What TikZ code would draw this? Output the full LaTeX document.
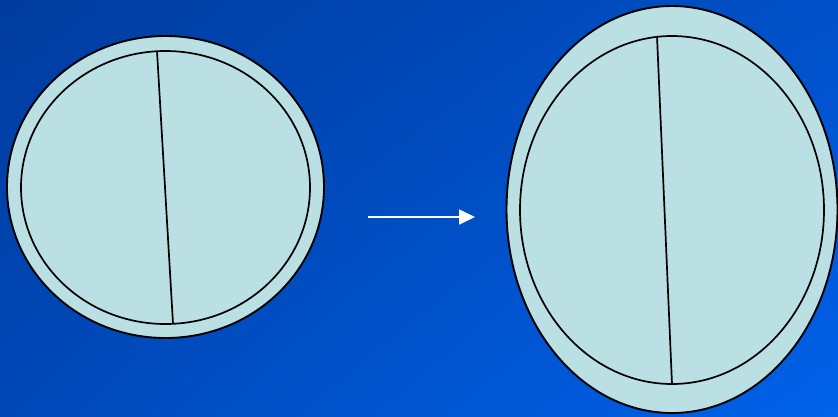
\documentclass[tikz,border=0pt]{standalone}
\usetikzlibrary{shapes.geometric,arrows.meta,shadings}
\definecolor{lens}{HTML}{BBE0E3}
\definecolor{bgA}{HTML}{003C9E}
\definecolor{bgB}{HTML}{0050C8}
\definecolor{bgC}{HTML}{0048B8}
\definecolor{bgD}{HTML}{0062EA}
\begin{document}
\begin{tikzpicture}[x=1pt,y=-1pt,
  disc/.style={ellipse,draw=black,fill=lens,line width=1.9pt,inner sep=0pt},
  inner/.style={ellipse,draw=black,fill=lens,line width=1.7pt,inner sep=0pt},
  seam/.style={draw=black,line width=1.7pt},
  flow/.style={draw=white,line width=1.8pt,-{Triangle[length=16pt,width=15pt]}}]
\shade[upper left=bgA,upper right=bgB,lower left=bgC,lower right=bgD] (0,0) rectangle (838,416);
\useasboundingbox (0,0) rectangle (838,416);
% left
\node[disc,minimum width=317pt,minimum height=302pt] (lo) at (165.5,187) {};
\node[inner,minimum width=289pt,minimum height=273pt] (li) at (165.5,187.5) {};
\coordinate (la) at (157,51);
\coordinate (lb) at (173,323.5);
\draw[seam] (la) -- (lb);
% right
\node[disc,minimum width=331pt,minimum height=407pt] (ro) at (672,209.5) {};
\node[inner,minimum width=304pt,minimum height=348pt] (ri) at (672,210) {};
\coordinate (ra) at (657,36);
\coordinate (rb) at (672,384);
\draw[seam] (ra) -- (rb);
% arrow
\coordinate (a1) at (368,217);
\coordinate (a2) at (475,217);
\draw[flow] (a1) -- (a2);
\end{tikzpicture}
\end{document}
